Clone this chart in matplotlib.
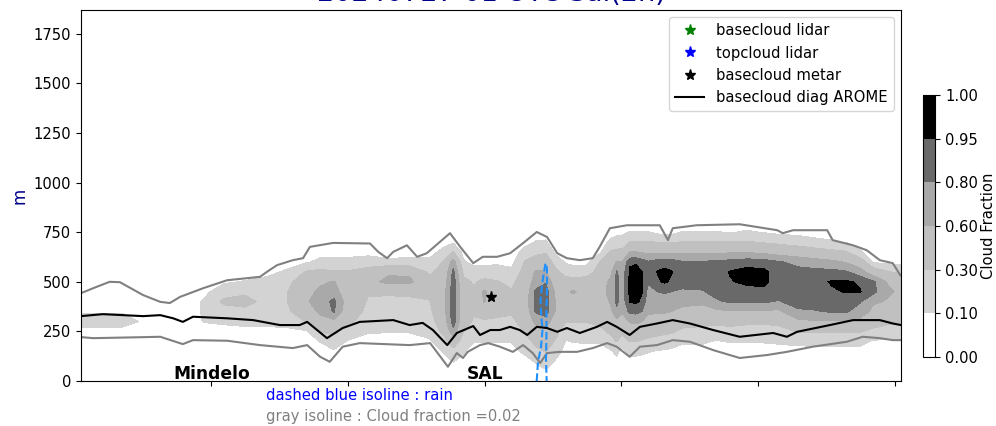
import numpy as np
import matplotlib.pyplot as plt

plt.rcParams['font.size'] = 10.6

# cloud fraction field: one profile per column, heights 50..800 m every 50 m
z_levels = [50, 100, 150, 200, 250, 300, 350, 400, 450, 500, 550, 600, 650, 700, 750, 800]
x_cols = [0, 3, 6, 9, 12, 15, 18, 21, 24, 27, 30, 33, 35, 37, 39, 42, 45, 48, 51, 53, 54.5,
          56, 57.5, 59, 61, 63, 65, 66.5, 68, 69.5, 71, 72, 74, 76, 77.5, 78.4, 79.2, 80.3,
          81.2, 82.1, 83, 84.4, 85.4, 86.4, 88, 91, 93, 95, 97.5, 100, 102, 105, 107.5, 110,
          112, 114, 116, 118, 120]
cf_cols = [
    [0, 0, 0, 0, 0.03, 0.2, 0.08, 0, 0, 0, 0, 0, 0, 0, 0, 0],
    [0, 0, 0, 0, 0.03, 0.2, 0.08, 0, 0, 0, 0, 0, 0, 0, 0, 0],
    [0, 0, 0, 0, 0.03, 0.2, 0.08, 0, 0, 0, 0, 0, 0, 0, 0, 0],
    [0, 0, 0, 0, 0, 0.08, 0.03, 0, 0, 0, 0, 0, 0, 0, 0, 0],
    [0, 0, 0, 0, 0, 0, 0, 0, 0, 0, 0, 0, 0, 0, 0, 0],
    [0, 0, 0, 0, 0, 0, 0, 0, 0, 0, 0, 0, 0, 0, 0, 0],
    [0, 0, 0, 0, 0.02, 0.11, 0.12, 0.12, 0.06, 0, 0, 0, 0, 0, 0, 0],
    [0, 0, 0, 0, 0.04, 0.13, 0.2, 0.35, 0.2, 0.08, 0, 0, 0, 0, 0, 0],
    [0, 0, 0, 0, 0.05, 0.15, 0.22, 0.4, 0.25, 0.11, 0.03, 0, 0, 0, 0, 0],
    [0, 0, 0, 0, 0.05, 0.15, 0.2, 0.22, 0.2, 0.15, 0.05, 0, 0, 0, 0, 0],
    [0, 0, 0, 0, 0.05, 0.18, 0.25, 0.28, 0.28, 0.25, 0.12, 0.04, 0, 0, 0, 0],
    [0, 0, 0, 0.02, 0.08, 0.31, 0.45, 0.58, 0.5, 0.4, 0.32, 0.08, 0, 0, 0, 0],
    [0, 0, 0.02, 0.11, 0.31, 0.5, 0.65, 0.68, 0.66, 0.55, 0.35, 0.15, 0.03, 0, 0, 0],
    [0, 0.02, 0.08, 0.2, 0.35, 0.55, 0.82, 0.85, 0.7, 0.62, 0.32, 0.15, 0.04, 0, 0, 0],
    [0, 0, 0.03, 0.09, 0.2, 0.35, 0.45, 0.5, 0.45, 0.4, 0.32, 0.15, 0.04, 0, 0, 0],
    [0, 0, 0, 0.03, 0.12, 0.2, 0.25, 0.28, 0.32, 0.5, 0.4, 0.18, 0.05, 0, 0, 0],
    [0, 0, 0, 0.03, 0.11, 0.2, 0.25, 0.27, 0.32, 0.68, 0.55, 0.15, 0.02, 0, 0, 0],
    [0, 0, 0, 0.04, 0.11, 0.2, 0.25, 0.27, 0.33, 0.66, 0.55, 0.15, 0.03, 0, 0, 0],
    [0, 0, 0.02, 0.08, 0.15, 0.2, 0.25, 0.29, 0.35, 0.4, 0.25, 0.14, 0.04, 0, 0, 0],
    [0, 0.03, 0.11, 0.2, 0.35, 0.45, 0.5, 0.5, 0.5, 0.45, 0.4, 0.31, 0.15, 0.04, 0, 0],
    [0, 0.11, 0.22, 0.45, 0.75, 0.9, 0.9, 0.9, 0.9, 0.9, 0.85, 0.7, 0.31, 0.08, 0, 0],
    [0, 0.04, 0.12, 0.2, 0.31, 0.38, 0.4, 0.4, 0.42, 0.35, 0.25, 0.12, 0.04, 0, 0, 0],
    [0, 0, 0.03, 0.11, 0.2, 0.28, 0.32, 0.35, 0.33, 0.28, 0.18, 0.05, 0, 0, 0, 0],
    [0, 0, 0.03, 0.11, 0.2, 0.28, 0.38, 0.62, 0.65, 0.35, 0.2, 0.05, 0, 0, 0, 0],
    [0, 0, 0.02, 0.11, 0.2, 0.28, 0.33, 0.35, 0.33, 0.31, 0.2, 0.06, 0, 0, 0, 0],
    [0, 0, 0.03, 0.11, 0.18, 0.25, 0.33, 0.35, 0.32, 0.25, 0.15, 0.04, 0, 0, 0, 0],
    [0, 0.03, 0.15, 0.22, 0.32, 0.4, 0.45, 0.48, 0.45, 0.42, 0.38, 0.32, 0.18, 0.04, 0, 0],
    [0.03, 0.12, 0.25, 0.35, 0.5, 0.65, 0.82, 0.85, 0.83, 0.7, 0.62, 0.4, 0.25, 0.11, 0.02, 0],
    [0.08, 0.2, 0.31, 0.4, 0.55, 0.72, 0.88, 0.9, 0.9, 0.78, 0.62, 0.45, 0.28, 0.12, 0.03, 0],
    [0, 0.08, 0.18, 0.28, 0.35, 0.45, 0.58, 0.58, 0.55, 0.45, 0.35, 0.2, 0.06, 0, 0, 0],
    [0, 0, 0.03, 0.09, 0.2, 0.31, 0.4, 0.48, 0.55, 0.4, 0.2, 0.08, 0, 0, 0, 0],
    [0, 0, 0.03, 0.11, 0.2, 0.31, 0.4, 0.5, 0.63, 0.4, 0.18, 0.06, 0, 0, 0, 0],
    [0, 0, 0.03, 0.12, 0.2, 0.31, 0.38, 0.45, 0.5, 0.4, 0.2, 0.05, 0, 0, 0, 0],
    [0, 0, 0.04, 0.12, 0.25, 0.35, 0.45, 0.5, 0.55, 0.5, 0.4, 0.31, 0.08, 0, 0, 0],
    [0, 0.02, 0.08, 0.22, 0.35, 0.45, 0.55, 0.62, 0.64, 0.64, 0.55, 0.45, 0.32, 0.15, 0.02, 0],
    [0, 0.05, 0.15, 0.31, 0.45, 0.55, 0.75, 0.85, 0.85, 0.85, 0.82, 0.62, 0.35, 0.18, 0.05, 0],
    [0, 0.02, 0.05, 0.2, 0.35, 0.5, 0.62, 0.7, 0.72, 0.72, 0.7, 0.62, 0.35, 0.2, 0.06, 0],
    [0, 0.05, 0.15, 0.31, 0.45, 0.62, 0.85, 0.96, 0.98, 0.98, 0.97, 0.93, 0.6, 0.31, 0.11, 0.02],
    [0, 0.05, 0.15, 0.31, 0.45, 0.65, 0.85, 0.97, 0.99, 0.99, 0.98, 0.94, 0.61, 0.31, 0.11, 0.02],
    [0, 0.05, 0.13, 0.28, 0.42, 0.6, 0.8, 0.93, 0.955, 0.96, 0.955, 0.88, 0.58, 0.31, 0.11, 0.02],
    [0, 0.04, 0.11, 0.25, 0.4, 0.55, 0.62, 0.7, 0.75, 0.82, 0.85, 0.82, 0.55, 0.31, 0.11, 0.02],
    [0, 0.03, 0.09, 0.22, 0.37, 0.52, 0.62, 0.72, 0.8, 0.93, 0.96, 0.88, 0.55, 0.3, 0.06, 0],
    [0, 0.03, 0.08, 0.2, 0.35, 0.5, 0.62, 0.72, 0.82, 0.97, 0.98, 0.9, 0.55, 0.28, 0.04, 0],
    [0, 0.03, 0.07, 0.18, 0.33, 0.48, 0.6, 0.7, 0.8, 0.93, 0.96, 0.88, 0.55, 0.28, 0.05, 0],
    [0, 0.02, 0.05, 0.12, 0.25, 0.4, 0.55, 0.65, 0.78, 0.85, 0.88, 0.82, 0.55, 0.31, 0.11, 0.02],
    [0, 0.02, 0.05, 0.12, 0.25, 0.35, 0.5, 0.65, 0.79, 0.85, 0.88, 0.82, 0.55, 0.31, 0.11, 0.02],
    [0, 0.02, 0.04, 0.09, 0.22, 0.35, 0.55, 0.78, 0.85, 0.88, 0.88, 0.84, 0.55, 0.31, 0.11, 0.02],
    [0, 0.02, 0.05, 0.11, 0.22, 0.38, 0.58, 0.82, 0.9, 0.94, 0.96, 0.86, 0.58, 0.32, 0.09, 0.02],
    [0, 0.02, 0.05, 0.11, 0.2, 0.35, 0.58, 0.82, 0.9, 0.98, 0.99, 0.9, 0.58, 0.32, 0.12, 0.02],
    [0, 0.02, 0.05, 0.11, 0.2, 0.35, 0.58, 0.82, 0.92, 0.98, 0.98, 0.88, 0.55, 0.28, 0.09, 0.02],
    [0, 0.02, 0.05, 0.12, 0.22, 0.35, 0.55, 0.79, 0.85, 0.88, 0.88, 0.82, 0.5, 0.25, 0.06, 0],
    [0, 0.02, 0.04, 0.15, 0.32, 0.55, 0.78, 0.85, 0.88, 0.88, 0.85, 0.75, 0.45, 0.2, 0.05, 0],
    [0, 0.02, 0.05, 0.15, 0.32, 0.58, 0.79, 0.86, 0.88, 0.9, 0.85, 0.7, 0.4, 0.15, 0.03, 0],
    [0, 0.02, 0.05, 0.15, 0.32, 0.58, 0.82, 0.88, 0.93, 0.97, 0.85, 0.65, 0.35, 0.12, 0.02, 0],
    [0, 0.02, 0.05, 0.15, 0.32, 0.58, 0.82, 0.88, 0.96, 0.97, 0.82, 0.58, 0.32, 0.09, 0.02, 0],
    [0, 0.02, 0.05, 0.15, 0.32, 0.55, 0.7, 0.82, 0.96, 0.93, 0.7, 0.45, 0.12, 0.04, 0, 0],
    [0, 0, 0.02, 0.08, 0.25, 0.4, 0.55, 0.62, 0.85, 0.83, 0.45, 0.08, 0.02, 0, 0, 0],
    [0, 0, 0, 0.08, 0.2, 0.35, 0.5, 0.59, 0.62, 0.59, 0.32, 0.05, 0, 0, 0, 0],
    [0, 0, 0, 0.08, 0.18, 0.32, 0.45, 0.55, 0.58, 0.5, 0.25, 0.04, 0, 0, 0, 0],
]
cf_levels = [0, 0.1, 0.3, 0.6, 0.8, 0.95, 1.0]
cf_colors = ['white', 'lightgray', 'silver', 'darkgray', 'dimgray', 'black']

# basecloud diag AROME
base_x = [0, 3.2, 9.1, 11.6, 13.5, 14.9, 16.4, 21.4, 25.2, 29.1, 32.0, 33.1, 36.0, 38.3, 40.8,
          45.7, 48.1, 50.0, 51.5, 53.6, 55.0, 57.4, 58.4, 59.9, 61.3, 62.8, 64.2, 65.3, 66.7,
          68.2, 69.7, 71.1, 73.0, 75.5, 77.0, 78.4, 80.3, 81.8, 84.3, 86.6, 89.1, 92.5, 96.4,
          101.3, 103.3, 104.8, 109.6, 113.0, 116.9, 118.8, 120]
base_z = [327, 337, 327, 332, 316, 298, 324, 316, 307, 282, 282, 298, 216, 267, 298,
          307, 282, 293, 257, 181, 242, 277, 232, 257, 257, 273, 257, 232, 273,
          267, 248, 267, 242, 273, 298, 273, 232, 273, 290, 307, 290, 257, 223,
          242, 223, 248, 282, 307, 307, 290, 282]

# isoline cloud fraction = 0.02 (upper and lower)
up_x = [0.1, 1.8, 4.2, 5.7, 9.1, 11.6, 13.0, 14.5, 17.9, 21.4, 26.2, 27.2, 28.7, 31.0, 32.5,
        33.5, 36.9, 42.3, 43.5, 44.8, 45.7, 47.7, 49.2, 50.6, 54.0, 55.5, 57.4, 58.8, 60.9,
        62.8, 64.7, 66.7, 68.2, 69.7, 71.1, 73.0, 74.9, 75.9, 77.4, 79.9, 84.7, 85.9, 86.6,
        90.1, 96.4, 101.9, 102.7, 104.2, 109.2, 110.0, 113.0, 115.0, 116.9, 118.8, 119.9]
up_z = [444, 468, 500, 498, 433, 399, 393, 424, 468, 508, 525, 550, 584, 609, 619,
        676, 696, 693, 651, 619, 651, 684, 626, 644, 745, 676, 594, 626, 626,
        644, 695, 751, 726, 644, 619, 609, 619, 676, 770, 785, 785, 710, 770,
        785, 790, 760, 745, 760, 760, 710, 684, 659, 609, 594, 533]
low_x = [0.1, 1.8, 9.1, 11.6, 14.9, 16.4, 21.4, 26.2, 31.0, 33.1, 35.0, 36.4, 38.3, 40.8,
         48.1, 51.1, 53.7, 55.0, 55.9, 56.6, 58.4, 59.6, 61.3, 63.2, 64.7, 66.1, 67.2, 68.2,
         70.1, 72.6, 74.9, 77.0, 78.4, 80.3, 81.8, 84.3, 86.6, 89.1, 92.5, 96.4, 100.4,
         103.3, 107.1, 112.1, 114.4, 116.9, 118.8, 119.9]
low_z = [221, 216, 221, 223, 186, 206, 203, 181, 166, 181, 122, 97, 173, 191,
         181, 191, 72, 141, 116, 147, 181, 191, 173, 147, 181, 141, 91, 141,
         147, 147, 166, 191, 173, 122, 173, 181, 206, 198, 156, 116, 131,
         147, 173, 198, 223, 216, 206, 206]

# rain isoline
rain_x = [66.69, 66.88, 67.32, 67.54, 67.32, 67.24, 67.46, 67.76, 67.98, 68.19, 68.19,
          68.12, 68.12, 68.05, 68.15]
rain_z = [0, 96, 171, 257, 347, 408, 483, 549, 594, 569, 458, 357, 232, 106, 0]

metar_x = [60.0]
metar_z = [425]

xtick_pos = [19.1, 39.1, 59.1, 79.1, 99.1, 119.1]
place_names = ['Mindelo', 'SAL']
place_x = [19.1, 59.1]

field = np.array(cf_cols).T
zeros = np.zeros((1, len(x_cols)))
field = np.vstack([zeros, field, zeros])
z_grid = [0] + z_levels + [850]

fig = plt.figure(figsize=(9.96, 4.26), dpi=100)
ax = fig.add_axes([0.0813, 0.1056, 0.8233, 0.871])

cf = ax.contourf(x_cols, z_grid, field, levels=cf_levels, colors=cf_colors)
ax.plot(up_x, up_z, color='gray', lw=1.5)
ax.plot(low_x, low_z, color='gray', lw=1.5)
ax.plot(rain_x, rain_z, color='dodgerblue', lw=1.5, ls='--')
ax.plot([], [], '*', color='green', ms=8, ls='none', label='basecloud lidar')
ax.plot([], [], '*', color='blue', ms=8, ls='none', label='topcloud lidar')
ax.plot(metar_x, metar_z, '*', color='black', ms=8, ls='none', label='basecloud metar')
ax.plot(base_x, base_z, color='black', lw=1.5, label='basecloud diag AROME')

for name, px in zip(place_names, place_x):
    ax.text(px, 8, name, ha='center', va='baseline', fontsize=12.3, fontweight='bold')

ax.set_xlim(0, 120)
ax.set_ylim(0, 1870)
ax.set_xticks(xtick_pos)
ax.set_xticklabels([])
ax.set_yticks(range(0, 2000, 250))
ax.set_ylabel('m', color='darkblue', fontsize=12)
ax.set_title('20240727 01 UTC Sal(2h)', color='darkblue', fontsize=19.5, pad=6.8)
ax.legend(loc='upper right')

cax = fig.add_axes([0.927, 0.162, 0.012, 0.615])
cb = fig.colorbar(cf, cax=cax, ticks=cf_levels)
cb.ax.set_yticklabels(['%.2f' % v for v in cf_levels])
cb.set_label('Cloud Fraction', labelpad=2)

fig.text(266 / 996, 1 - 396 / 426, 'dashed blue isoline : rain', color='blue', va='center')
fig.text(266 / 996, 1 - 417 / 426, 'gray isoline : Cloud fraction =0.02', color='gray',
         va='center')

fig.savefig('out.png', dpi=100)
